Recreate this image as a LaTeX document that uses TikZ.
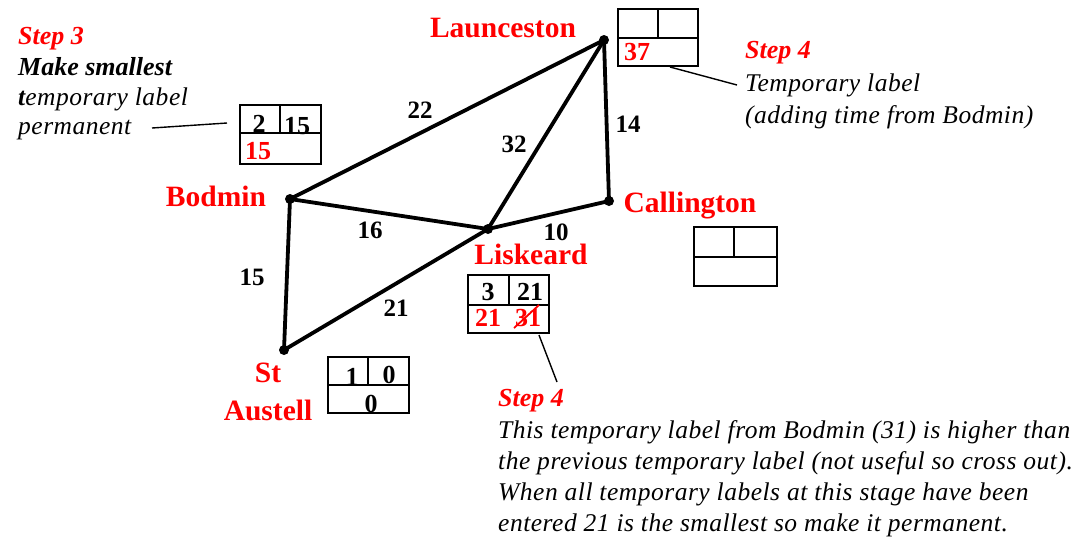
\documentclass[tikz,border=0pt]{standalone}
\usepackage{fontspec}
\setmainfont{Liberation Serif}
\newfontfamily\notefam{Liberation Serif}[LetterSpace=2]
\newcommand\placefont{\fontsize{29.5}{32}\selectfont\bfseries}
\newcommand\wtfont{\fontsize{25}{28}\selectfont\bfseries}
\newcommand\cellfont{\fontsize{26}{28}\selectfont\bfseries}
\newcommand\notefont{\notefam\fontsize{25.5}{31}\selectfont\itshape}
\newcommand\stepfont{\fontsize{26}{28}\selectfont\bfseries\itshape}
% label table: name, x1, y1, x2, y2, vertical divider x, horizontal divider y
\newcommand\labeltable[7]{%
  \coordinate (#1-nw) at (#2,#3);
  \coordinate (#1-se) at (#4,#5);
  \draw[tblline] (#1-nw) rectangle (#1-se);
  \draw[tblline] (#2,#7) -- (#4,#7);
  \draw[tblline] (#6,#3) -- (#6,#7);
}
\begin{document}
\begin{tikzpicture}[x=1pt,y=-1pt,
  town/.style={circle,fill=black,inner sep=0,minimum size=10pt},
  road/.style={line width=3.8pt},
  place/.style={text=red,font=\placefont,inner sep=0,anchor=base},
  wt/.style={font=\wtfont,inner sep=0},
  cell/.style={font=\cellfont,inner sep=0},
  redcell/.style={cell,text=red},
  tblline/.style={line width=1.8pt},
  note/.style={font=\notefont,inner sep=0,anchor=base west},
  stepl/.style={font=\stepfont,text=red,inner sep=0,anchor=base west},
  pointer/.style={line width=1.4pt}]

\useasboundingbox (0,0) rectangle (1091,542);

% towns
\node[town] (L) at (604,40) {};
\node[town] (B) at (290,199) {};
\node[town] (K) at (488,229) {};
\node[town] (C) at (609,201) {};
\node[town] (S) at (284,350) {};

% roads
\draw[road] (L.center) -- (B.center);
\draw[road] (L.center) -- (K.center);
\draw[road] (L.center) -- (C.center);
\draw[road] (B.center) -- (K.center);
\draw[road] (K.center) -- (C.center);
\draw[road] (B.center) -- (S.center);
\draw[road] (S.center) -- (K.center);

% travel times
\node[wt] (wLB) at (420,110) {22};
\node[wt] (wLK) at (514,144) {32};
\node[wt] (wLC) at (628,124) {14};
\node[wt] (wBK) at (370,230) {16};
\node[wt] (wKC) at (556,232) {10};
\node[wt] (wBS) at (252,277) {15};
\node[wt] (wSK) at (396,308) {21};

% town names
\node[place] (nL) at (503,37) {Launceston};
\node[place] (nB) at (216,206) {Bodmin};
\node[place] (nC) at (690,212) {Callington};
\node[place] (nK) at (531,264) {Liskeard};
\node[place] (nS1) at (268,382) {St};
\node[place] (nS2) at (268,420) {Austell};

% label tables
\labeltable{tL}{618}{9}{698}{66}{658}{38}
\labeltable{tB}{240}{105}{321}{164}{280}{133}
\labeltable{tK}{468}{275}{549}{333}{509}{305}
\labeltable{tC}{694}{227}{777}{286}{734}{257}
\labeltable{tS}{328}{357}{409}{413}{368}{385}

% table entries
\node[redcell] (vL) at (637,52) {37};
\node[cell] (oB) at (259,124) {2};
\node[cell] (pB) at (297,126) {15};
\node[redcell] (vB) at (258,151) {15};
\node[cell] (oK) at (488,292) {3};
\node[cell] (pK) at (530,292) {21};
\node[redcell] (vK1) at (488,318) {21};
\node[redcell] (vK2) at (528,318) {31};
\coordinate (x1) at (514,328);
\coordinate (x2) at (539,305);
\draw[red,line width=1.8pt] (x1) -- (x2);
\node[cell] (oS) at (352,377) {1};
\node[cell] (pS) at (389,375) {0};
\node[cell] (vS) at (371,404) {0};

% step 3 note
\node[stepl] (s3) at (18,44) {Step 3};
\node[note,font=\stepfont] (s3a) at (18,75) {Make smallest};
\node[note] (s3b) at (18,105) {\textbf{t}emporary label};
\node[note] (s3c) at (18,134) {permanent};
\coordinate (p3a) at (152,128);
\coordinate (p3b) at (227,123);
\draw[pointer] (p3a) -- (p3b);

% step 4 note at Launceston
\node[stepl] (s4a) at (745,58) {Step 4};
\node[note] (s4a1) at (745,91) {Temporary label};
\node[note] (s4a2) at (745,123) {(adding time from Bodmin)};
\coordinate (p4a) at (670,67);
\coordinate (p4b) at (737,85);
\draw[pointer] (p4a) -- (p4b);

% step 4 note at Liskeard
\node[stepl] (s4b) at (498,406) {Step 4};
\node[note] (s4b1) at (498,438) {This temporary label from Bodmin (31) is higher than};
\node[note] (s4b2) at (498,469) {the previous temporary label (not useful so cross out).};
\node[note] (s4b3) at (498,500) {When all temporary labels at this stage have been};
\node[note] (s4b4) at (498,531) {entered 21 is the smallest so make it permanent.};
\coordinate (p5a) at (539,335);
\coordinate (p5b) at (557,382);
\draw[pointer] (p5a) -- (p5b);
\end{tikzpicture}
\end{document}
